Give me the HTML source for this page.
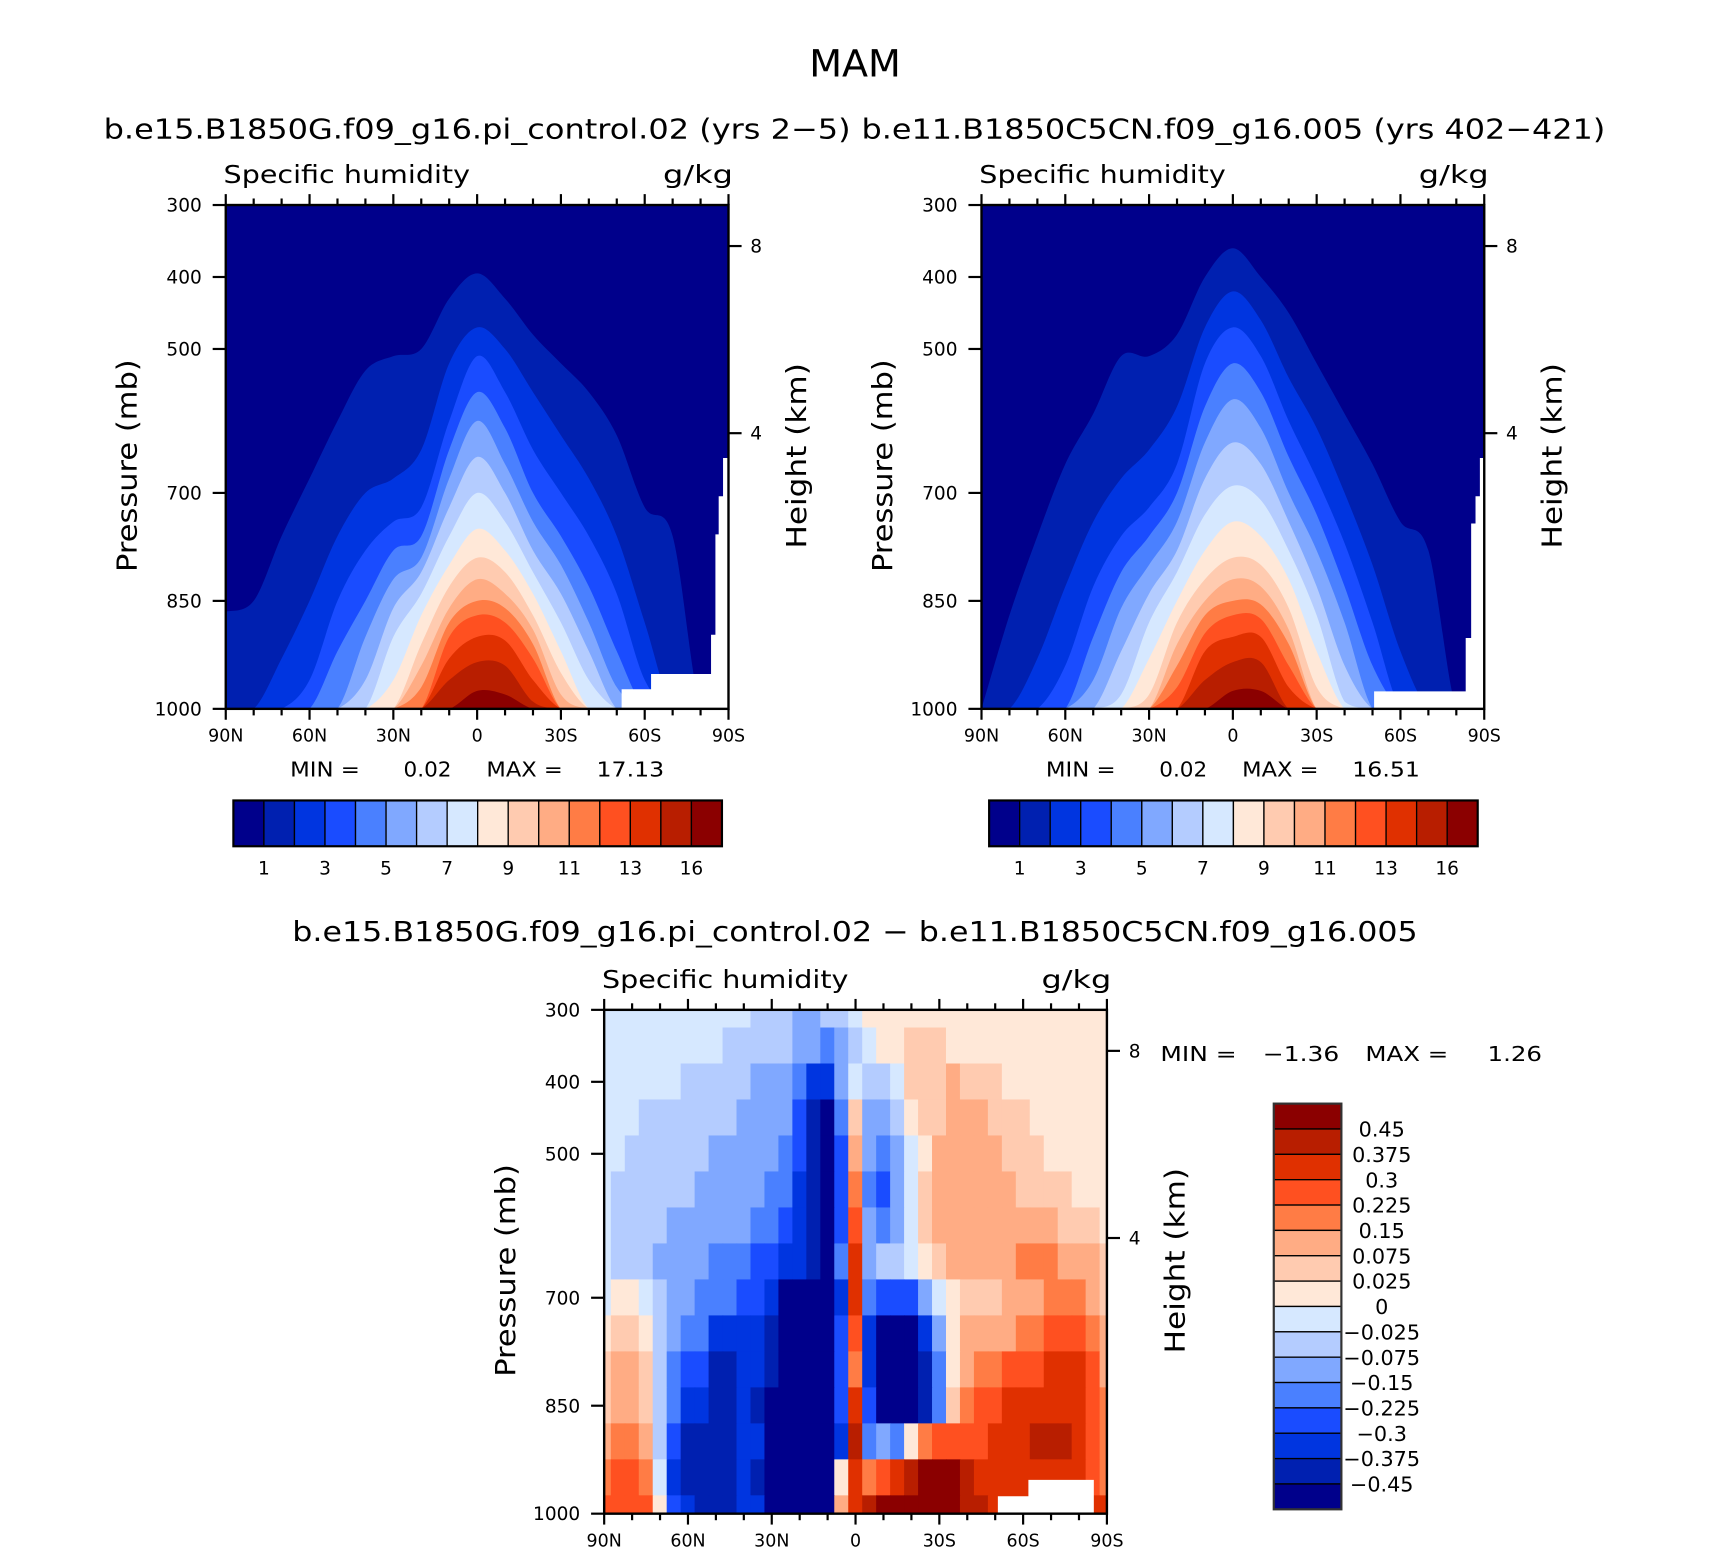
<!DOCTYPE html>
<html><head><meta charset="utf-8"><style>
html,body{margin:0;padding:0;background:#fff}
svg{display:block}
text{font-family:"DejaVu Sans","Liberation Sans",sans-serif;fill:#000}
</style></head><body>
<svg id="fig" xmlns="http://www.w3.org/2000/svg" width="1710" height="1561" viewBox="0 0 1568 1431.4">
<rect width="1568" height="1432" fill="#fff"/>
<text x="742" y="70" font-size="34" textLength="84" lengthAdjust="spacingAndGlyphs">MAM</text>
<text x="95" y="127" font-size="25" textLength="685" lengthAdjust="spacingAndGlyphs">b.e15.B1850G.f09_g16.pi_control.02 (yrs 2−5)</text>
<text x="790" y="127" font-size="25" textLength="682" lengthAdjust="spacingAndGlyphs">b.e11.B1850C5CN.f09_g16.005 (yrs 402−421)</text>
<text x="268" y="863" font-size="25" textLength="1032" lengthAdjust="spacingAndGlyphs">b.e15.B1850G.f09_g16.pi_control.02 − b.e11.B1850C5CN.f09_g16.005</text>
<g id="root"></g>
</svg>
<script>
const NS="http://www.w3.org/2000/svg";
const lats=[90,80,70,60,50,40,30,20,10,0,-10,-20,-30,-40,-50,-60,-70,-80,-90];
const latTicks=[90,60,30,0,-30,-60,-90];
const latTickLabels=["90N","60N","30N","0","30S","60S","90S"];
const presTicks=[300,400,500,700,850,1000];
const heightTickPres=[357,617];
const heightTickLabels=["8","4"];
const seqColors=["#00008b","#0020b0","#0035e0","#1a4cff","#4a80ff","#80a8ff","#b4ccff","#d6e8ff","#ffe8d8","#ffcbb0","#ffac84","#ff7c45","#ff5020","#e03000","#b81e00","#8b0000"];
const seqBarLabels=["1","3","5","7","9","11","13","16"];
const diffBounds=[-0.45,-0.375,-0.3,-0.225,-0.15,-0.075,-0.025,0,0.025,0.075,0.15,0.225,0.3,0.375,0.45];
const diffBarLabels=["0.45","0.375","0.3","0.225","0.15","0.075","0.025","0","−0.025","−0.075","−0.15","−0.225","−0.3","−0.375","−0.45"];
// panel 1: top pressure of each filled level (levels 1..15) per latitude
const p1Levels=[
[865,850,760,680,600,530,510,500,430,395,430,480,520,560,620,720,760,1000,1000],
[1000,1000,930,850,760,700,680,640,520,470,500,560,620,680,760,880,1000,1000,1000],
[1000,1000,1000,960,850,780,740,720,600,510,560,640,700,760,840,960,1000,1000,1000],
[1000,1000,1000,1000,920,850,780,760,640,560,610,700,760,830,920,1000,1000,1000,1000],
[1000,1000,1000,1000,1000,900,820,790,680,600,660,740,800,880,970,1000,1000,1000,1000],
[1000,1000,1000,1000,1000,960,860,810,720,650,700,780,840,920,1000,1000,1000,1000,1000],
[1000,1000,1000,1000,1000,1000,900,840,760,700,740,810,880,960,1000,1000,1000,1000,1000],
[1000,1000,1000,1000,1000,1000,960,870,800,750,780,840,920,1000,1000,1000,1000,1000,1000],
[1000,1000,1000,1000,1000,1000,1000,910,830,790,810,870,950,1000,1000,1000,1000,1000,1000],
[1000,1000,1000,1000,1000,1000,1000,940,860,820,840,890,980,1000,1000,1000,1000,1000,1000],
[1000,1000,1000,1000,1000,1000,1000,970,880,850,860,910,1000,1000,1000,1000,1000,1000,1000],
[1000,1000,1000,1000,1000,1000,1000,1000,900,870,880,930,1000,1000,1000,1000,1000,1000,1000],
[1000,1000,1000,1000,1000,1000,1000,1000,930,900,905,960,1000,1000,1000,1000,1000,1000,1000],
[1000,1000,1000,1000,1000,1000,1000,1000,960,935,940,990,1000,1000,1000,1000,1000,1000,1000],
[1000,1000,1000,1000,1000,1000,1000,1000,1000,975,980,1000,1000,1000,1000,1000,1000,1000,1000]];
const p2Levels=[
[1000,870,760,660,590,510,510,480,400,360,400,450,520,590,660,740,780,1000,1000],
[1000,1000,930,830,740,680,640,580,470,420,460,540,610,700,800,920,1000,1000,1000],
[1000,1000,1000,940,830,760,720,660,520,470,510,600,680,770,880,1000,1000,1000,1000],
[1000,1000,1000,1000,900,810,760,700,580,520,560,650,730,830,940,1000,1000,1000,1000],
[1000,1000,1000,1000,960,860,800,740,630,570,610,700,780,880,1000,1000,1000,1000,1000],
[1000,1000,1000,1000,1000,920,840,780,680,630,660,740,830,940,1000,1000,1000,1000,1000],
[1000,1000,1000,1000,1000,980,880,810,730,690,710,780,870,990,1000,1000,1000,1000,1000],
[1000,1000,1000,1000,1000,1000,930,850,780,740,760,820,920,1000,1000,1000,1000,1000,1000],
[1000,1000,1000,1000,1000,1000,980,880,820,790,800,860,970,1000,1000,1000,1000,1000,1000],
[1000,1000,1000,1000,1000,1000,1000,910,850,820,830,890,1000,1000,1000,1000,1000,1000,1000],
[1000,1000,1000,1000,1000,1000,1000,940,870,850,855,910,1000,1000,1000,1000,1000,1000,1000],
[1000,1000,1000,1000,1000,1000,1000,970,895,870,875,940,1000,1000,1000,1000,1000,1000,1000],
[1000,1000,1000,1000,1000,1000,1000,1000,920,900,900,970,1000,1000,1000,1000,1000,1000,1000],
[1000,1000,1000,1000,1000,1000,1000,1000,960,935,935,1000,1000,1000,1000,1000,1000,1000,1000],
[1000,1000,1000,1000,1000,1000,1000,1000,1000,975,975,1000,1000,1000,1000,1000,1000,1000,1000]];
// panel 3: difference field (g/kg), rows 300..1000 mb step 50, cols 90N..90S step 5
const diffLats=[90,85,80,75,70,65,60,55,50,45,40,35,30,25,20,15,10,5,0,-5,-10,-15,-20,-25,-30,-35,-40,-45,-50,-55,-60,-65,-70,-75,-80,-85,-90];
const diffPres=[300,350,400,450,500,550,600,650,700,750,800,850,900,950,1000];
const diffVals=[
[-.01,-.01,-.01,-.01,-.01,-.01,-.01,-.01,-.01,-.01,-.01,-.05,-.05,-.05,-.11,-.11,-.05,-.05,-.01,.01,.01,.01,.01,.01,.01,.01,.01,.01,.01,.01,.01,.01,.01,.01,.01,.01,.01],
[-.01,-.01,-.01,-.01,-.01,-.01,-.01,-.01,-.01,-.05,-.05,-.05,-.05,-.05,-.11,-.11,-.19,-.11,-.05,-.01,.01,.01,.05,.05,.05,.01,.01,.01,.01,.01,.01,.01,.01,.01,.01,.01,.01],
[-.01,-.01,-.01,-.01,-.01,-.01,-.05,-.05,-.05,-.05,-.05,-.11,-.11,-.11,-.19,-.34,-.34,-.11,-.01,-.05,-.05,-.01,.05,.05,.05,.11,.05,.05,.05,.01,.01,.01,.01,.01,.01,.01,.01],
[-.01,-.01,-.01,-.05,-.05,-.05,-.05,-.05,-.05,-.05,-.11,-.11,-.11,-.11,-.26,-.4,-.6,-.19,.05,-.11,-.11,-.05,.01,.05,.05,.11,.11,.11,.05,.05,.05,.01,.01,.01,.01,.01,.01],
[-.01,-.01,-.05,-.05,-.05,-.05,-.05,-.05,-.11,-.11,-.11,-.11,-.11,-.19,-.26,-.4,-.6,-.26,.11,-.11,-.19,-.11,-.01,.01,.11,.11,.11,.11,.11,.05,.05,.05,.01,.01,.01,.01,.01],
[-.01,-.05,-.05,-.05,-.05,-.05,-.05,-.11,-.11,-.11,-.11,-.11,-.19,-.19,-.34,-.4,-.6,-.26,.19,-.19,-.26,-.11,-.01,.05,.11,.11,.11,.11,.11,.11,.05,.05,.05,.05,.01,.01,.01],
[-.01,-.05,-.05,-.05,-.05,-.11,-.11,-.11,-.11,-.11,-.11,-.19,-.19,-.26,-.34,-.4,-.6,-.26,.26,-.11,-.19,-.11,-.01,.05,.11,.11,.11,.11,.11,.11,.11,.11,.11,.05,.05,.05,.01],
[-.01,-.05,-.05,-.05,-.11,-.11,-.11,-.11,-.19,-.19,-.19,-.26,-.26,-.34,-.34,-.4,-.6,-.19,.34,-.11,-.05,-.05,-.01,.01,.05,.11,.11,.11,.11,.11,.19,.19,.19,.11,.11,.11,.05],
[-.01,.01,.01,-.01,-.05,-.11,-.11,-.19,-.19,-.19,-.26,-.26,-.34,-.6,-.6,-.6,-.6,-.34,.34,-.19,-.26,-.26,-.26,-.11,-.01,.01,.05,.05,.05,.11,.11,.11,.19,.19,.19,.11,.05],
[.01,.05,.05,.01,-.05,-.11,-.19,-.19,-.34,-.34,-.34,-.34,-.4,-.6,-.6,-.6,-.6,-.26,.26,-.34,-.6,-.6,-.6,-.34,-.11,.01,.11,.11,.11,.11,.19,.19,.26,.26,.26,.19,.11],
[.05,.11,.11,.05,-.05,-.19,-.26,-.26,-.4,-.4,-.34,-.34,-.4,-.6,-.6,-.6,-.6,-.26,.19,-.34,-.6,-.6,-.6,-.4,-.19,.01,.11,.19,.19,.26,.26,.26,.34,.34,.34,.26,.11],
[.05,.11,.11,.05,-.05,-.19,-.34,-.34,-.4,-.4,-.34,-.4,-.6,-.6,-.6,-.6,-.6,-.26,.34,-.26,-.6,-.6,-.6,-.4,-.19,.05,.19,.26,.26,.34,.34,.34,.34,.34,.34,.26,.19],
[.11,.19,.19,.11,-.05,-.26,-.4,-.4,-.4,-.4,-.34,-.34,-.6,-.6,-.6,-.6,-.6,-.34,.4,-.19,-.11,-.19,.01,.19,.26,.26,.26,.26,.34,.34,.34,.4,.4,.4,.34,.26,.19],
[.19,.26,.26,.19,-.01,-.34,-.4,-.4,-.4,-.4,-.34,-.4,-.6,-.6,-.6,-.6,-.6,.01,.34,.19,.26,.34,.4,.6,.6,.6,.4,.34,.34,.34,.34,.34,.34,.34,.34,.26,.19],
[.26,.26,.26,.26,.01,-.26,-.34,-.4,-.4,-.4,-.34,-.34,-.6,-.6,-.6,-.6,-.6,.11,.34,.4,.6,.6,.6,.6,.6,.6,.4,.4,.34,.34,.34,.34,.34,.34,.34,.34,.34]];

const root=document.getElementById('root');
function el(tag,attrs,parent){const e=document.createElementNS(NS,tag);for(const k in attrs)e.setAttribute(k,attrs[k]);(parent||root).appendChild(e);return e;}
function txt(s,x,y,size,anchor,parent,len){const a={x:x,y:y,'font-size':size,'text-anchor':anchor||'middle'};if(len){a.textLength=len;a.lengthAdjust='spacingAndGlyphs';}const t=el('text',a,parent);t.textContent=s;return t;}

function makePanel(P,name){
  P.xs=lat=>P.x0+(90-lat)/180*(P.x1-P.x0);
  P.ys=p=>P.y0+(p-300)/700*(P.y1-P.y0);
  const g=el('g',{});
  
  
  P.g=g;
  const cp=el('clipPath',{id:name+'-clip'},g);
  el('rect',{x:P.x0,y:P.y0,width:P.x1-P.x0,height:P.y1-P.y0},cp);
  P.plot=el('g',{'clip-path':'url(#'+name+'-clip)'},g);
  return P;
}
function drawAxes(P,name){
  const g=P.g;
  const fr=el('rect',{x:P.x0,y:P.y0,width:P.x1-P.x0,height:P.y1-P.y0,fill:'none',stroke:'#000','stroke-width':2.2},g);
  
  
  for(let lat=90;lat>=-90;lat-=10){
    const x=P.xs(lat);const major=lat%30===0;const L=major?10:6;
    el('line',{x1:x,y1:P.y0,x2:x,y2:P.y0-L,stroke:'#000','stroke-width':2},g);
    el('line',{x1:x,y1:P.y1,x2:x,y2:P.y1+L,stroke:'#000','stroke-width':2},g);
  }
  latTicks.forEach((lat,i)=>{const t=txt(latTickLabels[i],P.xs(lat),P.y1+30,16,'middle',g);
    
    });
  presTicks.forEach(p=>{const y=P.ys(p);
    el('line',{x1:P.x0,y1:y,x2:P.x0-12,y2:y,stroke:'#000','stroke-width':2},g);
    const t=txt(String(p),P.x0-22,y+6,17,'end',g);
    
    });
  heightTickPres.forEach((p,i)=>{const y=P.ys(p);
    el('line',{x1:P.x1,y1:y,x2:P.x1+12,y2:y,stroke:'#000','stroke-width':2},g);
    const t=txt(heightTickLabels[i],P.x1+20,y+6,17,'start',g);
    
    });
  const cy=(P.y0+P.y1)/2;
  const yt=txt('Pressure (mb)',0,0,25,'middle',g,195);
  yt.setAttribute('transform','translate('+(P.x0-82)+','+(cy+8)+') rotate(-90)');
  
  
  const ht=txt('Height (km)',0,0,25,'middle',g,170);
  ht.setAttribute('transform','translate('+(P.x1+71)+','+(cy-1)+') rotate(-90)');
  
  
  const s=txt('Specific humidity',P.x0-2,P.y0-20,23,'start',g,226);
  
  
  const u=txt('g/kg',P.x1+4,P.y0-20,23,'end',g,64);
  
  
}
function smoothPath(pts,P){
  let d='M'+pts[0][0]+','+pts[0][1];
  for(let i=0;i<pts.length-1;i++){
    const p0=pts[Math.max(0,i-1)],p1=pts[i],p2=pts[i+1],p3=pts[Math.min(pts.length-1,i+2)];
    const c1=[p1[0]+(p2[0]-p0[0])/6,Math.min(P.y1,p1[1]+(p2[1]-p0[1])/6)];
    const c2=[p2[0]-(p3[0]-p1[0])/6,Math.min(P.y1,p2[1]-(p3[1]-p1[1])/6)];
    d+=' C'+c1[0]+','+c1[1]+' '+c2[0]+','+c2[1]+' '+p2[0]+','+p2[1];
  }
  return d;
}
function drawSeqPanel(P,levels,name){
  const bg=el('rect',{x:P.x0,y:P.y0,width:P.x1-P.x0,height:P.y1-P.y0,fill:seqColors[0]},P.plot);
  
  
  levels.forEach((tops,k)=>{
    const pts=lats.map((lat,i)=>[P.xs(lat),P.ys(tops[i])]);
    let d=smoothPath(pts,P)+' L'+P.x1+','+(P.y1+2)+' L'+P.x0+','+(P.y1+2)+' Z';
    const path=el('path',{d:d,fill:seqColors[k+1]},P.plot);
    
    
  });
}
function drawMissing(P,pts,name){
  const poly=el('polygon',{points:pts.map(p=>p.join(',')).join(' '),fill:'#fff'},P.plot);
  
  
}
function seqColorbar(x0,y0,name,minLabel,maxLabel){
  const g=el('g',{});
  
  
  const w=28,h=42;
  seqColors.forEach((c,i)=>{const r=el('rect',{x:x0+i*w,y:y0,width:w,height:h,fill:c,stroke:'#000','stroke-width':1.2},g);
    
    });
  el('rect',{x:x0,y:y0,width:w*16,height:h,fill:'none',stroke:'#000','stroke-width':2},g);
  seqBarLabels.forEach((s,j)=>{const t=txt(s,x0+w*(2*j+1),y0+h+26,17,'middle',g);
    
    });
  const a=txt('MIN =',x0+52,y0-22,19,'start',g,64);
  
  
  const b=txt(minLabel,x0+156,y0-22,19,'start',g,44);
  
  
  const c=txt('MAX =',x0+232,y0-22,19,'start',g,70);
  
  
  const d=txt(maxLabel,x0+333,y0-22,19,'start',g,62);
  
  
}
function diffColor(v){let k=0;while(k<diffBounds.length&&v>=diffBounds[k])k++;return seqColors[k];}

// panel 1
const P1=makePanel({x0:207,x1:668,y0:188,y1:650},'panel1');
drawSeqPanel(P1,p1Levels,'panel1');
drawMissing(P1,[[663,420],[669,420],[669,651],[570,651],[570,632],[597,632],[597,618],[652,618],[652,582],[656,582],[656,490],[659,490],[659,455],[663,455]],'panel1');
drawAxes(P1,'panel1');
seqColorbar(214,734,'panel1-colorbar','0.02','17.13');
// panel 2
const P2=makePanel({x0:900,x1:1361,y0:188,y1:650},'panel2');
drawSeqPanel(P2,p2Levels,'panel2');
drawMissing(P2,[[1357,420],[1362,420],[1362,651],[1260,651],[1260,634],[1344,634],[1344,585],[1349,585],[1349,480],[1353,480],[1353,455],[1357,455]],'panel2');
drawAxes(P2,'panel2');
seqColorbar(907,734,'panel2-colorbar','0.02','16.51');
// panel 3
const P3=makePanel({x0:554,x1:1015,y0:926,y1:1388},'panel3');
const dx=(P3.x1-P3.x0)/36, dp=50;
diffPres.forEach((p,r)=>{diffLats.forEach((lat,c)=>{
  const x=P3.xs(lat)-dx/2,y=P3.ys(p-dp/2);
  const cell=el('rect',{x:x-0.3,y:y-0.3,width:dx+0.6,height:P3.ys(p+dp/2)-y+0.6,fill:diffColor(diffVals[r][c])},P3.plot);
  
  
});});
drawMissing(P3,[[915,1389],[915,1372],[943,1372],[943,1357],[1003,1357],[1003,1389]],'panel3');
drawAxes(P3,'panel3');
// vertical colorbar
(function(){
  const g=el('g',{});
  
  
  const x0=1168,y0=1012,w=62,h=23.25;
  for(let i=0;i<16;i++){const r=el('rect',{x:x0,y:y0+i*h,width:w,height:h,fill:seqColors[15-i],stroke:'#000','stroke-width':1.2},g);
    
    }
  el('rect',{x:x0,y:y0,width:w,height:h*16,fill:'none',stroke:'#333','stroke-width':2},g);
  diffBarLabels.forEach((s,k)=>{const t=txt(s,1267,y0+h*(k+1)+7,19,'middle',g);
    
    });
  const a=txt('MIN =',1064,973,19,'start',g,70);
  
  
  const b=txt('−1.36',1158,973,19,'start',g,70);
  
  
  const c=txt('MAX =',1252,973,19,'start',g,76);
  
  
  const d=txt('1.26',1364,973,19,'start',g,50);
  
  
})();
</script>
</body></html>
